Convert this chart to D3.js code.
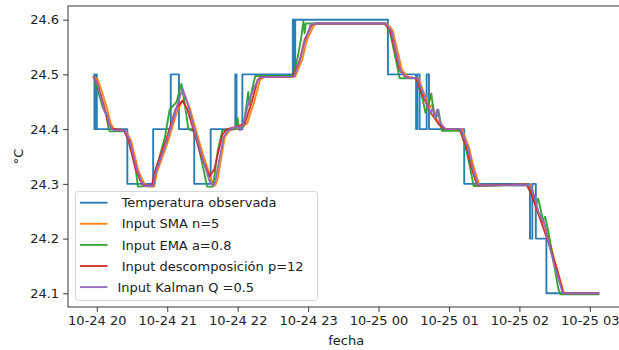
<!DOCTYPE html>
<html>
<head>
<meta charset="utf-8">
<script src="https://cdn.jsdelivr.net/npm/d3@7"></script>
<style>
  body { margin: 0; background: #fff; }
  svg { font-family: "DejaVu Sans", sans-serif; display: block; }
  .legend text { white-space: pre; }
</style>
</head>
<body>
<svg id="chart" width="619" height="350"></svg>
<script>
// observed temperature (step change points)
const obsTime = ["10-24 19:57", "10-24 19:58", "10-24 19:59", "10-24 20:00", "10-24 20:26", "10-24 20:48",
  "10-24 21:03", "10-24 21:10", "10-24 21:23", "10-24 21:37", "10-24 21:58", "10-24 21:59", "10-24 22:04",
  "10-24 22:47", "10-24 22:48", "10-24 22:49", "10-25 00:08", "10-25 00:32", "10-25 00:33", "10-25 00:35",
  "10-25 00:41", "10-25 00:43", "10-25 01:13", "10-25 02:09", "10-25 02:11", "10-25 02:14", "10-25 02:23",
  "10-25 03:08"];
const obsTemp = [24.5, 24.4, 24.5, 24.4, 24.3, 24.4, 24.5, 24.4, 24.3, 24.4, 24.5, 24.4, 24.5,
  24.6, 24.5, 24.6, 24.5, 24.4, 24.5, 24.4, 24.5, 24.4, 24.3, 24.2, 24.3, 24.2, 24.1, 24.1];

const smaTime = ["10-24 19:57", "10-24 20:01", "10-24 20:04", "10-24 20:08", "10-24 20:12", "10-24 20:15",
  "10-24 20:25", "10-24 20:29", "10-24 20:35", "10-24 20:39", "10-24 20:42", "10-24 20:49", "10-24 20:51",
  "10-24 21:01", "10-24 21:09", "10-24 21:15", "10-24 21:19", "10-24 21:25", "10-24 21:31", "10-24 21:38",
  "10-24 21:41", "10-24 21:43", "10-24 21:49", "10-24 21:53", "10-24 22:02", "10-24 22:08", "10-24 22:14",
  "10-24 22:19", "10-24 22:22", "10-24 22:49", "10-24 22:55", "10-24 22:59", "10-24 23:05", "10-24 23:08",
  "10-25 00:07", "10-25 00:12", "10-25 00:16", "10-25 00:20", "10-25 00:25", "10-25 00:34", "10-25 00:40",
  "10-25 00:44", "10-25 00:46", "10-25 00:49", "10-25 00:54", "10-25 00:58", "10-25 01:11", "10-25 01:17",
  "10-25 01:21", "10-25 01:25", "10-25 01:27", "10-25 02:09", "10-25 02:12", "10-25 02:15", "10-25 02:19",
  "10-25 02:23", "10-25 02:30", "10-25 02:38", "10-25 03:08"];
const smaTemp = [24.497, 24.49, 24.47, 24.443, 24.41, 24.398, 24.396, 24.38, 24.327, 24.306, 24.295, 24.295, 24.32,
  24.38, 24.436, 24.459, 24.44, 24.394, 24.35, 24.305, 24.297, 24.31, 24.385, 24.398, 24.403, 24.41, 24.449,
  24.49, 24.495, 24.496, 24.527, 24.563, 24.59, 24.593, 24.593, 24.581, 24.544, 24.508, 24.495, 24.493, 24.459,
  24.44, 24.445, 24.42, 24.404, 24.4, 24.4, 24.367, 24.331, 24.303, 24.297, 24.299, 24.28, 24.255, 24.233,
  24.218, 24.16, 24.1, 24.1];

const emaTime = ["10-24 19:57", "10-24 20:01", "10-24 20:05", "10-24 20:08", "10-24 20:10", "10-24 20:11",
  "10-24 20:24", "10-24 20:27", "10-24 20:33", "10-24 20:35", "10-24 20:48", "10-24 20:51", "10-24 20:58",
  "10-24 21:02", "10-24 21:08", "10-24 21:12", "10-24 21:14", "10-24 21:18", "10-24 21:24", "10-24 21:28",
  "10-24 21:34", "10-24 21:39", "10-24 21:43", "10-24 21:47", "10-24 21:58", "10-24 22:00", "10-24 22:01",
  "10-24 22:05", "10-24 22:09", "10-24 22:10", "10-24 22:12", "10-24 22:15", "10-24 22:47", "10-24 22:51",
  "10-24 22:54", "10-24 22:56", "10-24 22:57", "10-24 22:58", "10-25 00:06", "10-25 00:10", "10-25 00:14",
  "10-25 00:18", "10-25 00:32", "10-25 00:37", "10-25 00:40", "10-25 00:42", "10-25 00:45", "10-25 00:47",
  "10-25 00:49", "10-25 00:51", "10-25 00:54", "10-25 01:10", "10-25 01:15", "10-25 01:18", "10-25 01:21",
  "10-25 02:07", "10-25 02:11", "10-25 02:14", "10-25 02:16", "10-25 02:19", "10-25 02:20", "10-25 02:22",
  "10-25 02:24", "10-25 02:29", "10-25 02:33", "10-25 02:35", "10-25 03:08"];
const emaTemp = [24.497, 24.47, 24.44, 24.428, 24.4, 24.396, 24.396, 24.38, 24.33, 24.295, 24.297, 24.33, 24.385,
  24.435, 24.45, 24.483, 24.46, 24.4, 24.395, 24.355, 24.295, 24.295, 24.36, 24.398, 24.4, 24.42, 24.4,
  24.405, 24.468, 24.445, 24.47, 24.497, 24.497, 24.53, 24.565, 24.597, 24.575, 24.593, 24.593, 24.575, 24.535,
  24.493, 24.493, 24.46, 24.43, 24.44, 24.465, 24.43, 24.42, 24.435, 24.397, 24.397, 24.36, 24.33, 24.296,
  24.298, 24.285, 24.26, 24.273, 24.245, 24.232, 24.24, 24.22, 24.16, 24.11, 24.098, 24.098];

const decTime = ["10-24 19:57", "10-24 20:01", "10-24 20:06", "10-24 20:10", "10-24 20:13", "10-24 20:23",
  "10-24 20:27", "10-24 20:33", "10-24 20:37", "10-24 20:40", "10-24 20:47", "10-24 20:49", "10-24 20:59",
  "10-24 21:07", "10-24 21:13", "10-24 21:17", "10-24 21:23", "10-24 21:29", "10-24 21:36", "10-24 21:40",
  "10-24 21:47", "10-24 21:51", "10-24 22:00", "10-24 22:06", "10-24 22:12", "10-24 22:17", "10-24 22:20",
  "10-24 22:47", "10-24 22:53", "10-24 22:57", "10-24 23:03", "10-24 23:06", "10-25 00:05", "10-25 00:10",
  "10-25 00:14", "10-25 00:18", "10-25 00:23", "10-25 00:32", "10-25 00:38", "10-25 00:45", "10-25 00:52",
  "10-25 00:56", "10-25 01:09", "10-25 01:15", "10-25 01:19", "10-25 01:23", "10-25 01:25", "10-25 02:06",
  "10-25 02:10", "10-25 02:17", "10-25 02:26", "10-25 02:33", "10-25 02:37", "10-25 02:39", "10-25 03:08"];
const decTemp = [24.497, 24.479, 24.443, 24.41, 24.401, 24.398, 24.38, 24.327, 24.306, 24.297, 24.297, 24.32,
  24.38, 24.436, 24.452, 24.437, 24.394, 24.35, 24.314, 24.326, 24.39, 24.4, 24.405, 24.41, 24.449, 24.49,
  24.495, 24.496, 24.527, 24.563, 24.59, 24.593, 24.593, 24.581, 24.544, 24.508, 24.495, 24.493, 24.459,
  24.428, 24.407, 24.4, 24.4, 24.367, 24.331, 24.303, 24.297, 24.299, 24.282, 24.24, 24.185, 24.136, 24.102,
  24.1, 24.1];

const kalTime = ["10-24 19:57", "10-24 20:01", "10-24 20:05", "10-24 20:07", "10-24 20:09", "10-24 20:11",
  "10-24 20:14", "10-24 20:24", "10-24 20:28", "10-24 20:34", "10-24 20:38", "10-24 20:41", "10-24 20:48",
  "10-24 20:50", "10-24 21:00", "10-24 21:08", "10-24 21:13", "10-24 21:17", "10-24 21:23", "10-24 21:29",
  "10-24 21:36", "10-24 21:39", "10-24 21:41", "10-24 21:48", "10-24 21:52", "10-24 22:00", "10-24 22:02",
  "10-24 22:05", "10-24 22:10", "10-24 22:15", "10-24 22:19", "10-24 22:48", "10-24 22:53", "10-24 22:57",
  "10-24 22:59", "10-24 23:02", "10-24 23:05", "10-25 00:06", "10-25 00:11", "10-25 00:15", "10-25 00:19",
  "10-25 00:24", "10-25 00:33", "10-25 00:39", "10-25 00:42", "10-25 00:44", "10-25 00:46", "10-25 00:48",
  "10-25 00:50", "10-25 00:53", "10-25 00:57", "10-25 01:10", "10-25 01:16", "10-25 01:20", "10-25 01:24",
  "10-25 01:26", "10-25 02:08", "10-25 02:11", "10-25 02:13", "10-25 02:16", "10-25 02:19", "10-25 02:21",
  "10-25 02:24", "10-25 02:30", "10-25 02:37", "10-25 03:08"];
const kalTemp = [24.497, 24.48, 24.445, 24.43, 24.425, 24.405, 24.398, 24.397, 24.38, 24.327, 24.305, 24.296,
  24.296, 24.32, 24.38, 24.44, 24.474, 24.45, 24.4, 24.355, 24.305, 24.297, 24.305, 24.385, 24.398, 24.405,
  24.398, 24.41, 24.455, 24.48, 24.495, 24.496, 24.525, 24.559, 24.57, 24.59, 24.593, 24.593, 24.58, 24.54,
  24.505, 24.494, 24.493, 24.46, 24.44, 24.43, 24.438, 24.42, 24.436, 24.41, 24.4, 24.4, 24.367, 24.331,
  24.302, 24.297, 24.298, 24.288, 24.276, 24.25, 24.235, 24.231, 24.2, 24.15, 24.1, 24.1];

const seriesNames = [" Temperatura observada", " Input SMA n=5", " Input EMA a=0.8",
  " Input descomposición p=12", "Input Kalman Q =0.5"];
const seriesColors = ["#1f77b4", "#ff7f0e", "#2ca02c", "#d62728", "#9467bd"];
const yTicks = [24.1, 24.2, 24.3, 24.4, 24.5, 24.6];

const parseT = d3.timeParse("%m-%d %H:%M");
const zip = (ts, vs) => ts.map((t, i) => ({ t: parseT(t), v: vs[i] }));

const series = [
  zip(obsTime, obsTemp),
  zip(smaTime, smaTemp),
  zip(emaTime, emaTemp),
  zip(decTime, decTemp),
  zip(kalTime, kalTemp),
];

const svg = d3.select("#chart");
const mLeft = 68, mRight = 624.5, mTop = 6, mBottom = 307;

// matplotlib style 5% margins
const tExt = d3.extent(series[0], (d) => d.t);
const pad = (tExt[1] - tExt[0]) * 0.05;
const x = d3
  .scaleTime()
  .domain([new Date(+tExt[0] - pad), new Date(+tExt[1] + pad)])
  .range([mLeft, mRight]);
const y = d3.scaleLinear().domain([24.075, 24.625]).range([mBottom, mTop]);

svg.append("clipPath").attr("id", "plotclip")
  .append("rect").attr("x", mLeft).attr("y", mTop)
  .attr("width", mRight - mLeft).attr("height", mBottom - mTop);

const plot = svg.append("g").attr("clip-path", "url(#plotclip)");

series.forEach((data, i) => {
  const line = d3
    .line()
    .x((d) => x(d.t))
    .y((d) => y(d.v))
    .curve(i === 0 ? d3.curveStepAfter : d3.curveLinear);
  plot
    .append("path")
    .datum(data)
    .attr("d", line)
    .attr("fill", "none")
    .attr("stroke", seriesColors[i])
    .attr("stroke-width", 1.9)
    .attr("stroke-opacity", 0.95)
    .attr("stroke-linejoin", "round");
});

// axes
const xAxis = d3
  .axisBottom(x)
  .ticks(d3.timeHour.every(1))
  .tickFormat(d3.timeFormat("%m-%d %H"))
  .tickSize(4.9)
  .tickPadding(4);
const gx = svg.append("g").attr("transform", `translate(0,${mBottom})`).call(xAxis);

const yAxis = d3
  .axisLeft(y)
  .tickValues(yTicks)
  .tickFormat(d3.format(".1f"))
  .tickSize(4.9)
  .tickPadding(4);
const gy = svg.append("g").attr("transform", `translate(${mLeft},0)`).call(yAxis);

[gx, gy].forEach((g) => {
  g.select(".domain").remove();
  g.selectAll("line").attr("stroke", "#222").attr("stroke-width", 0.9);
  g.selectAll("text").attr("font-size", 13).attr("fill", "#222")
    .attr("font-family", "DejaVu Sans");
});

// spines
svg.append("rect")
  .attr("x", mLeft).attr("y", mTop)
  .attr("width", mRight - mLeft).attr("height", mBottom - mTop)
  .attr("fill", "none").attr("stroke", "#222").attr("stroke-width", 0.9);

svg.append("text")
  .attr("x", (mLeft + mRight) / 2).attr("y", 345)
  .attr("text-anchor", "middle").attr("font-size", 13).attr("fill", "#222")
  .text("fecha");

svg.append("text")
  .attr("transform", `translate(23,${(mTop + mBottom) / 2}) rotate(-90)`)
  .attr("text-anchor", "middle").attr("font-size", 13).attr("fill", "#222")
  .text("°C");

// legend
const legend = svg.append("g").attr("class", "legend");
legend.append("rect")
  .attr("x", 75.5).attr("y", 191.5).attr("width", 242).attr("height", 109)
  .attr("rx", 3).attr("fill", "#fff").attr("fill-opacity", 0.8)
  .attr("stroke", "#d6d6d6").attr("stroke-width", 1);

seriesNames.forEach((name, i) => {
  const yy = 202.7 + i * 21.1;
  legend.append("line")
    .attr("x1", 80).attr("x2", 107.5).attr("y1", yy).attr("y2", yy)
    .attr("stroke", seriesColors[i]).attr("stroke-width", 1.9)
    .attr("stroke-opacity", 0.95);
  legend.append("text")
    .attr("x", 117.5).attr("y", yy).attr("dy", "0.36em")
    .attr("font-size", 13).attr("fill", "#222")
    .text(name);
});
</script>
</body>
</html>
